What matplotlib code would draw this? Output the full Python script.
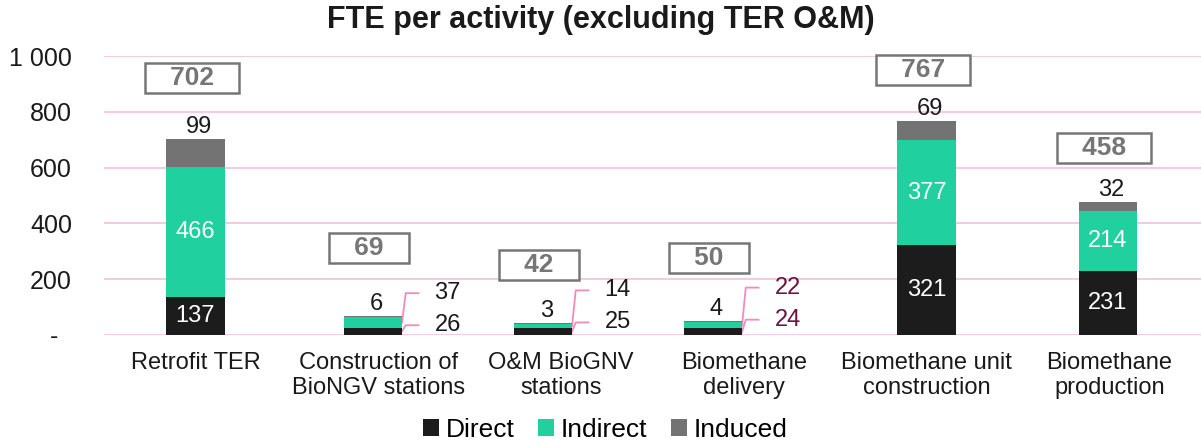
import numpy as np
import matplotlib.pyplot as plt

plt.rcParams['font.family'] = ['Liberation Sans', 'DejaVu Sans']

# data
categories = ['Retrofit TER', 'Construction of\nBioNGV stations', 'O&M BioGNV\nstations',
              'Biomethane\ndelivery', 'Biomethane unit\nconstruction', 'Biomethane\nproduction']
direct = [137, 26, 25, 24, 321, 231]
indirect = [466, 37, 14, 22, 377, 214]
induced = [99, 6, 3, 4, 69, 32]
totals = [702, 69, 42, 50, 767, 458]
y_ticks = [0, 200, 400, 600, 800, 1000]
y_tick_labels = ['-  ', '200', '400', '600', '800', '1 000']

# layout / style
bar_shift = [0, -0.03, -0.10, -0.17, 0, -0.01]
box_gap = [219, 243, 209, 226, 183, 193]
outside = [False, True, True, True, False, False]
lead_color = ['#1a1a1a', '#1a1a1a', '#1a1a1a', '#6d1240', '#1a1a1a', '#1a1a1a']
c_direct, c_indirect, c_induced = '#1c1c1c', '#20d09e', '#737373'
grid_pink = '#f6c9e1'
leader_pink = '#f08cbc'
width = 0.32
fs = 17

fig = plt.figure(figsize=(12.01, 4.44), dpi=100)
ax = fig.add_axes([0.0866, 0.2455, 0.9134, 0.628])

x = np.arange(len(categories)) + np.array(bar_shift)
d = np.array(direct)
i_ = np.array(indirect)
n = np.array(induced)

ax.bar(x, d, width, color=c_direct, label='Direct', zorder=3)
ax.bar(x, i_, width, bottom=d, color=c_indirect, label='Indirect', zorder=3)
ax.bar(x, n, width, bottom=d + i_, color=c_induced, label='Induced', zorder=3)

for k in range(len(categories)):
    top = d[k] + i_[k] + n[k]
    # induced label above the bar
    ax.text(x[k] + 0.02, top + 4, str(n[k]), ha='center', va='bottom', fontsize=fs, color='#1a1a1a')
    # total box
    ax.text(x[k] - 0.02, top + box_gap[k], '   %d   ' % totals[k], ha='center', va='center',
            fontsize=19, fontweight='bold', color='#767676',
            bbox=dict(boxstyle='square,pad=0.12', fc='white', ec='#767676', lw=1.8), zorder=4)
    if outside[k]:
        right = x[k] + width / 2
        lx = x[k] + 0.41
        for val, mid, ly in [(i_[k], d[k] + i_[k] / 2, 150 + 10 * (k - 1)),
                             (d[k], d[k] / 2, 35 + 10 * (k - 1))]:
            ax.plot([right, right + 0.02, right + 0.09], [mid, ly, ly], color=leader_pink,
                    lw=1.3, zorder=2, clip_on=False)
            ax.text(lx, ly, str(val), ha='center', va='center', fontsize=fs, color=lead_color[k])
    else:
        ax.text(x[k], d[k] / 2, str(d[k]), ha='center', va='center', fontsize=fs, color='white', zorder=4)
        ax.text(x[k], d[k] + i_[k] / 2, str(i_[k]), ha='center', va='center', fontsize=fs,
                color='white', zorder=4)

ax.set_xlim(-0.5, len(categories) - 0.5)
ax.set_ylim(0, 1000)
ax.set_yticks(y_ticks)
ax.set_yticklabels(y_tick_labels, fontsize=18, color='#1a1a1a')
ax.set_xticks(np.arange(len(categories)))
ax.set_xticklabels(categories, fontsize=fs, color='#1a1a1a', linespacing=1.17)
ax.tick_params(axis='y', length=0, pad=23)
ax.tick_params(axis='x', length=0, pad=12)
ax.grid(axis='y', color=grid_pink, lw=1.4, zorder=0)
ax.set_axisbelow(True)
for s in ax.spines.values():
    s.set_visible(False)

fig.text(0.5005, 0.955, 'FTE per activity (excluding TER O&M)', fontsize=22, fontweight='bold',
         ha='center', va='center', color='#1a1a1a')

fig.legend(*ax.get_legend_handles_labels(), loc='center', bbox_to_anchor=(0.504, 0.032), ncol=3,
           frameon=False, fontsize=19, handlelength=0.6, handleheight=0.6, handletextpad=0.25,
           columnspacing=0.9, borderpad=0, borderaxespad=0)

fig.savefig('out.png', dpi=100)
